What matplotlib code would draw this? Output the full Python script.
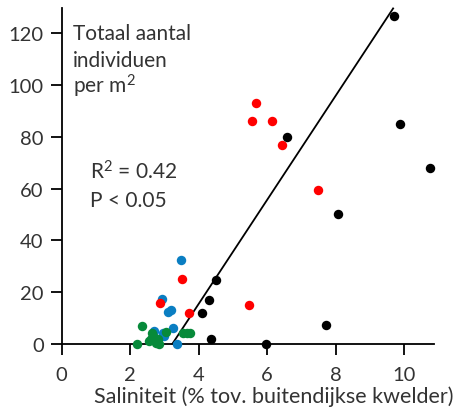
import matplotlib
matplotlib.use("Agg")
import matplotlib.pyplot as plt

plt.rcParams['font.family'] = ['Lato', 'DejaVu Sans']
plt.rcParams['mathtext.fontset'] = 'custom'
plt.rcParams['mathtext.rm'] = 'Lato'
plt.rcParams['mathtext.it'] = 'Lato'
plt.rcParams['mathtext.default'] = 'regular'

# Data
black_x = [9.71, 9.87, 10.75, 6.57, 8.06, 4.51, 4.30, 4.09, 4.36, 5.96, 7.72]
black_y = [126.5, 85, 68, 80, 50, 24.7, 17, 12, 2, 0, 7.2]

red_x = [5.69, 5.57, 6.13, 6.43, 7.50, 5.46, 3.50, 3.71, 2.88]
red_y = [93, 86, 86, 77, 59.5, 15, 25, 12, 15.8]

blue_x = [3.49, 2.93, 3.18, 3.10, 3.26, 2.71, 3.00, 3.37, 2.97]
blue_y = [32.2, 17.3, 13.2, 12.1, 6.2, 5.0, 3.1, 0, 4.0]

green_x = [2.20, 2.34, 2.55, 2.60, 2.65, 2.68, 2.72, 2.76, 2.80, 2.84, 3.05, 3.55, 3.65, 3.75]
green_y = [0, 7, 1, 2, 4, 3, 1.5, 0.5, 2, 0, 4.4, 4, 4, 4]

slope = 20.1
intercept = -65.0

x_ticks = [0, 2, 4, 6, 8, 10]
y_ticks = [0, 20, 40, 60, 80, 100, 120]

title_lines = ['Totaal aantal', 'individuen', 'per m$^2$']
stat_lines = ['R$^2$ = 0.42', 'P < 0.05']
xlabel = 'Saliniteit (% tov. buitendijkse kwelder)'

xmax, ymax = 10.88, 129.6
W, H = 457, 410

fig = plt.figure(figsize=(W / 100, H / 100), dpi=100)
ax = fig.add_axes([0.135, 0.159, 0.815, 0.818])

x0 = -intercept / slope
x1 = (ymax - intercept) / slope
ax.plot([x0, x1], [slope * x0 + intercept, slope * x1 + intercept],
        color='black', lw=1.3, zorder=2, clip_on=False)

ms = 6.8
ax.plot(blue_x, blue_y, 'o', color='#0A7EC2', ms=ms, mec='none', zorder=3, clip_on=False)
ax.plot(green_x, green_y, 'o', color='#078A3A', ms=ms, mec='none', zorder=4, clip_on=False)
ax.plot(red_x, red_y, 'o', color='#FF0000', ms=ms, mec='none', zorder=3, clip_on=False)
ax.plot(black_x, black_y, 'o', color='black', ms=ms, mec='none', zorder=3, clip_on=False)

ax.set_xlim(0, xmax)
ax.set_ylim(0, ymax)
ax.set_xticks(x_ticks)
ax.set_yticks(y_ticks)
ax.set_xticklabels([str(t) for t in x_ticks])
ax.set_yticklabels([str(t) for t in y_ticks])
for s in ['top', 'right']:
    ax.spines[s].set_visible(False)
for s in ['left', 'bottom']:
    ax.spines[s].set_linewidth(1.3)
ax.tick_params(direction='out', length=8, width=1.3, labelsize=14.5,
               labelcolor='#333333')
ax.tick_params(axis='x', pad=8)
ax.tick_params(axis='y', pad=5)

txtc = '#333333'
for i, line in enumerate(title_lines):
    fig.text(73 / W, 1 - (40 + 26.7 * i) / H, line, ha='left', va='baseline',
             fontsize=15, color=txtc)
for i, line in enumerate(stat_lines):
    fig.text(90 / W, 1 - (180 + 26.7 * i) / H, line, ha='left', va='baseline',
             fontsize=15, color=txtc)
fig.text(0.992, 0.017, xlabel, ha='right', va='baseline',
         fontsize=15.5, color=txtc)

fig.savefig('out.png', dpi=100)
